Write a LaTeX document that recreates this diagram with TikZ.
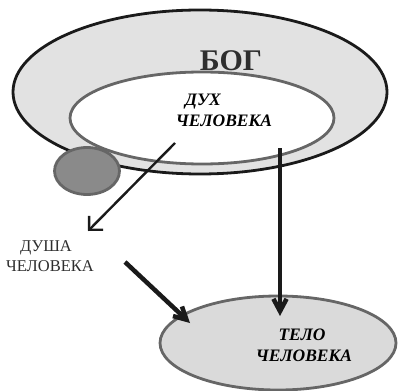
\documentclass[tikz,border=0pt]{standalone}
\usepackage{fontspec}
\setmainfont{Liberation Serif}
\usetikzlibrary{shapes.geometric,arrows.meta}
\definecolor{bandgray}{HTML}{E2E2E2}
\definecolor{bodygray}{HTML}{DADADA}
\definecolor{soulgray}{HTML}{8A8A8A}
\definecolor{edgegray}{HTML}{666666}
\definecolor{darkline}{HTML}{1A1A1A}
\definecolor{textgray}{HTML}{2E2E2E}
\tikzset{
  oval/.style={ellipse,inner sep=0pt,line width=2.8pt},
  boldlabel/.style={font=\bfseries\itshape\fontsize{17.5}{18}\selectfont,align=left,inner sep=0pt},
  thinarrow/.style={draw=darkline,line width=2.4pt,-{Straight Barb[angle=90:14pt,line width=2.4pt]}},
  thickarrow/.style={draw=darkline,line width=4.5pt,-{Straight Barb[angle=56:14pt,line width=4.5pt]}}
}
\begin{document}
\begin{tikzpicture}[x=1pt,y=-1pt]
\useasboundingbox (0,0) rectangle (398,390);
\node[oval,draw=darkline,fill=bandgray,minimum width=374pt,minimum height=164pt] (god) at (200,92) {};
\node[oval,draw=edgegray,fill=white,minimum width=264pt,minimum height=92pt] (spirit) at (202,118) {};
\node[oval,draw=edgegray,fill=soulgray,minimum width=65pt,minimum height=47pt] (soulball) at (87,171) {};
\node[oval,draw=edgegray,fill=bodygray,minimum width=236pt,minimum height=94pt] (body) at (278,343) {};
\node[font=\bfseries\fontsize{30}{30}\selectfont,text=textgray,inner sep=0pt] (godlbl) at (231,61) {БОГ};
\node[boldlabel] (spiritA) at (203,102) {ДУХ};
\node[boldlabel] (spiritB) at (224,121) {ЧЕЛОВЕКА};
\node[font=\fontsize{16.5}{17}\selectfont,text=textgray,inner sep=0pt] (soulA) at (46,248) {ДУША};
\node[font=\fontsize{16.5}{17}\selectfont,text=textgray,inner sep=0pt] (soulB) at (50,266) {ЧЕЛОВЕКА};
\node[boldlabel] (bodyA) at (302,335) {ТЕЛО};
\node[boldlabel] (bodyB) at (304,356) {ЧЕЛОВЕКА};
\coordinate (a1s) at (175,143);
\coordinate (a1e) at (88,231);
\coordinate (a2s) at (280,148);
\coordinate (a2e) at (280,316);
\coordinate (a3s) at (125,262);
\coordinate (a3e) at (190,323);
\draw[thinarrow] (a1s) -- (a1e);
\draw[thickarrow] (a2s) -- (a2e);
\draw[thickarrow] (a3s) -- (a3e);
\end{tikzpicture}
\end{document}
